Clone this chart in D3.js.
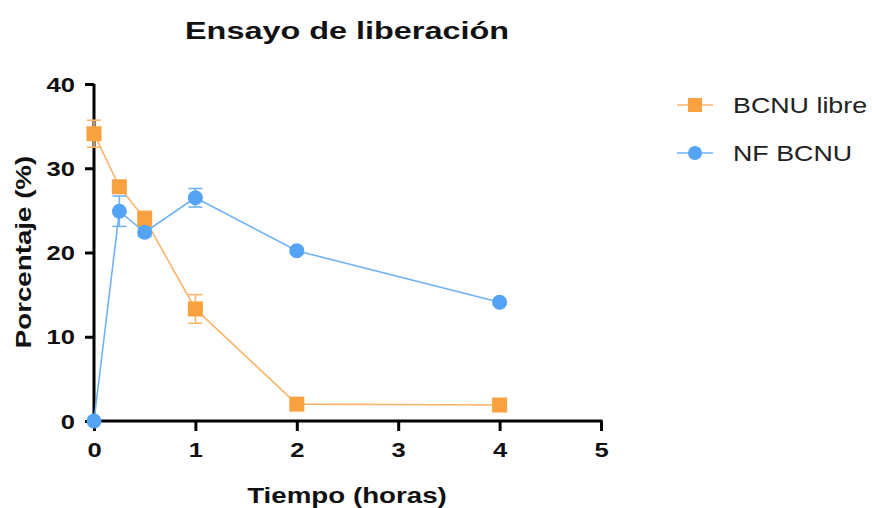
<!DOCTYPE html>
<html>
<head>
<meta charset="utf-8">
<script src="https://cdn.jsdelivr.net/npm/d3@7"></script>
<style>
  body { margin: 0; background: #fff; }
  text { font-family: 'Liberation Sans', Arial, sans-serif; }
</style>
</head>
<body>
<div id="chart"></div>
<script>
// Tiempo (horas) for every measured point
const times = [0, 0.25, 0.5, 1, 2, 4];

// Mean release (%) and error for each series
const libreValues = [34.1, 27.8, 24.0, 13.3, 2.0, 1.9];
const libreErrors = [1.6, 0.5, 0.9, 1.7, 0.3, 0.3];
const nfValues = [0, 24.9, 22.4, 26.5, 20.2, 14.1];
const nfErrors = [0, 1.8, 0.5, 1.1, 0.3, 0.3];

const xTicks = [0, 1, 2, 3, 4, 5];
const yTicks = [0, 10, 20, 30, 40];
const seriesNames = ['BCNU libre', 'NF BCNU'];

let svgWidth = 872;
let svgHeight = 508;

let margin = { top: 84, left: 94, right: 271, bottom: 87 };
let width = svgWidth - margin.left - margin.right;
let height = svgHeight - margin.top - margin.bottom;

let svg = d3.select('#chart')
  .append('svg')
  .attr('width', svgWidth)
  .attr('height', svgHeight);

let chartGroup = svg.append('g')
  .attr('transform', `translate(${margin.left}, ${margin.top})`);

let xScale = d3.scaleLinear().domain([0, 5]).range([0, 507]);
let yScale = d3.scaleLinear().domain([0, 40]).range([height, 0]);

// the original font is drawn wider than Arial, so stretch text horizontally
const tickStretch = 1.28;

// Axes
let xAxis = d3.axisBottom(xScale).tickValues(xTicks).tickFormat(d3.format('d')).tickSize(10).tickSizeOuter(0);
let yAxis = d3.axisLeft(yScale).tickValues(yTicks).tickFormat(d3.format('d')).tickSize(9).tickSizeOuter(0);

let xg = chartGroup.append('g')
  .attr('transform', `translate(0, ${height})`)
  .call(xAxis);
let yg = chartGroup.append('g').call(yAxis);

[xg, yg].forEach(g => {
  g.select('.domain').attr('stroke', '#000').attr('stroke-width', 3);
  g.selectAll('.tick line').attr('stroke', '#000').attr('stroke-width', 3);
  g.selectAll('.tick text')
    .attr('fill', '#111')
    .attr('font-family', "'Liberation Sans', Arial, sans-serif")
    .attr('font-size', '20px')
    .attr('font-weight', 'bold');
});
yg.select('.domain').attr('d', `M0,${height + 1.5}V0`);
xg.select('.domain').attr('d', `M-1.5,0H${xScale(5) + 1.5}`);

xg.selectAll('.tick text')
  .attr('y', 0).attr('dy', 0)
  .attr('transform', `translate(0, 36) scale(${tickStretch}, 1)`);
yg.selectAll('.tick text')
  .attr('x', 0).attr('dy', '0.35em')
  .attr('transform', `translate(-19, 0) scale(${tickStretch}, 1)`);

let series = [
  { name: seriesNames[0], values: libreValues, errors: libreErrors, color: '#f9a13e', line: '#fbb56b', shape: 'square' },
  { name: seriesNames[1], values: nfValues, errors: nfErrors, color: '#55a3f5', line: '#6fb2f7', shape: 'circle' }
];

let lineGen = d3.line()
  .x(d => xScale(d.t))
  .y(d => yScale(d.v));

series.forEach(s => {
  let pts = times.map((t, i) => ({ t: t, v: s.values[i], e: s.errors[i] }));

  chartGroup.append('path')
    .datum(pts)
    .attr('d', lineGen)
    .attr('fill', 'none')
    .attr('stroke', s.line)
    .attr('stroke-width', 1.6);

  // error bars
  let eb = chartGroup.append('g').selectAll('g')
    .data(pts.filter(d => d.e > 0))
    .enter()
    .append('g')
    .attr('stroke', s.line)
    .attr('stroke-width', 1.6);
  eb.append('line')
    .attr('x1', d => xScale(d.t)).attr('x2', d => xScale(d.t))
    .attr('y1', d => yScale(d.v - d.e)).attr('y2', d => yScale(d.v + d.e));
  eb.append('line')
    .attr('x1', d => xScale(d.t) - 7).attr('x2', d => xScale(d.t) + 7)
    .attr('y1', d => yScale(d.v + d.e)).attr('y2', d => yScale(d.v + d.e));
  eb.append('line')
    .attr('x1', d => xScale(d.t) - 7).attr('x2', d => xScale(d.t) + 7)
    .attr('y1', d => yScale(d.v - d.e)).attr('y2', d => yScale(d.v - d.e));

  if (s.shape === 'square') {
    chartGroup.append('g').selectAll('rect')
      .data(pts)
      .enter()
      .append('rect')
      .attr('x', d => xScale(d.t) - 7.5)
      .attr('y', d => yScale(d.v) - 7.5)
      .attr('width', 15)
      .attr('height', 15)
      .attr('fill', s.color);
  } else {
    chartGroup.append('g').selectAll('circle')
      .data(pts)
      .enter()
      .append('circle')
      .attr('cx', d => xScale(d.t))
      .attr('cy', d => yScale(d.v))
      .attr('r', 7.5)
      .attr('fill', s.color);
  }
});

// Title
svg.append('text')
  .attr('transform', 'translate(347, 39) scale(1.35, 1)')
  .attr('text-anchor', 'middle')
  .attr('font-size', '24px')
  .attr('font-weight', 'bold')
  .attr('fill', '#111')
  .text('Ensayo de liberación');

// Axis titles
svg.append('text')
  .attr('transform', 'translate(347, 503) scale(1.26, 1)')
  .attr('text-anchor', 'middle')
  .attr('font-size', '22px')
  .attr('font-weight', 'bold')
  .attr('fill', '#111')
  .text('Tiempo (horas)');

svg.append('text')
  .attr('transform', 'translate(31, 252) rotate(-90) scale(1.26, 1)')
  .attr('text-anchor', 'middle')
  .attr('font-size', '22px')
  .attr('font-weight', 'bold')
  .attr('fill', '#111')
  .text('Porcentaje (%)');

// Legend
let legend = svg.append('g').attr('transform', 'translate(677, 105)');
series.forEach((s, i) => {
  let row = legend.append('g').attr('transform', `translate(0, ${i * 48})`);
  row.append('line')
    .attr('x1', 0).attr('x2', 36)
    .attr('stroke', s.line).attr('stroke-width', 1.6);
  if (s.shape === 'square') {
    row.append('rect').attr('x', 11).attr('y', -7).attr('width', 14).attr('height', 14).attr('fill', s.color);
  } else {
    row.append('circle').attr('cx', 18).attr('r', 7).attr('fill', s.color);
  }
  row.append('text')
    .attr('transform', 'translate(56, 8) scale(1.22, 1)')
    .attr('font-size', '22px')
    .attr('fill', '#222')
    .text(s.name);
});
</script>
</body>
</html>
